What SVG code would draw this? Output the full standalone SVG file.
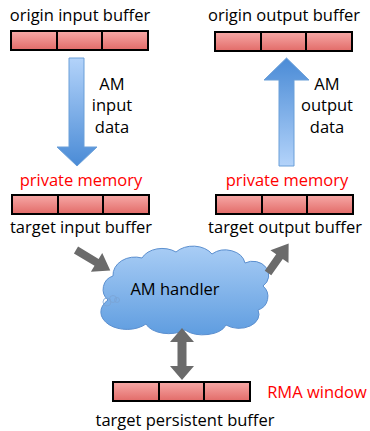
<svg xmlns="http://www.w3.org/2000/svg" width="370" height="431" viewBox="0 0 370 431">
<defs>
<linearGradient id="buf" x1="0" y1="0" x2="0" y2="1"><stop offset="0" stop-color="#f7a9a7"/><stop offset="1" stop-color="#e26b68"/></linearGradient>
<linearGradient id="blueDown" x1="0" y1="0" x2="0" y2="1"><stop offset="0" stop-color="#b3d3fa"/><stop offset="1" stop-color="#4a8bd6"/></linearGradient>
<linearGradient id="blueUp" x1="0" y1="1" x2="0" y2="0"><stop offset="0" stop-color="#b3d3fa"/><stop offset="1" stop-color="#4a8bd6"/></linearGradient>
<linearGradient id="cloudG" x1="0" y1="0" x2="0" y2="1"><stop offset="0" stop-color="#a9cdf5"/><stop offset="1" stop-color="#5f9de0"/></linearGradient>
<g id="bufbar">
<rect x="0" y="0" width="137" height="19" fill="url(#buf)" stroke="#000" stroke-width="2"/>
<line x1="46" y1="0" x2="46" y2="19" stroke="#000" stroke-width="2"/>
<line x1="91" y1="0" x2="91" y2="19" stroke="#000" stroke-width="2"/>
</g>
</defs>
<style>
text{font-family:"Open Sans","Liberation Sans",sans-serif;font-size:16.5px;fill:#000;text-anchor:middle}
.red{fill:#ff0000}
.gray{fill:#6b6b6b}
.blue{stroke:#6a9fd8;stroke-width:1}
</style>
<g id="origin-input">
<text x="80" y="21">origin input buffer</text>
<use href="#bufbar" x="11" y="31"/>
</g>
<g id="origin-output">
<text x="284" y="21">origin output buffer</text>
<use href="#bufbar" x="215" y="32"/>
</g>
<g id="target-input">
<text class="red" x="81" y="186">private memory</text>
<use href="#bufbar" x="12" y="195"/>
<text x="81" y="233">target input buffer</text>
</g>
<g id="target-output">
<text class="red" x="287" y="186">private memory</text>
<use href="#bufbar" x="216" y="195"/>
<text x="285" y="233">target output buffer</text>
</g>
<g id="am-handler">
<path d="M108,300 A14,14 0 0 1 113,276 A22,18 0 0 1 142,258 A22,16 0 0 1 176,252 A22,16 0 0 1 212,254 A20,16 0 0 1 245,263 A16,14 0 0 1 263,286 A14,14 0 0 1 258,310 A20,14 0 0 1 226,325 A24,14 0 0 1 185,330 A24,14 0 0 1 146,324 A24,16 0 0 1 108,300 Z" fill="url(#cloudG)" stroke="#5b8fcf" stroke-width="1"/>
<g fill="none" stroke="#7aa3d4" stroke-width="0.8"><circle cx="107" cy="302" r="4"/><circle cx="113" cy="299" r="3.5"/><circle cx="117" cy="300" r="2.5"/></g>
<text x="175" y="295">AM handler</text>
</g>
<g id="persistent">
<use href="#bufbar" x="113" y="382"/>
<text class="red" x="317" y="398">RMA window</text>
<text x="185" y="426">target persistent buffer</text>
</g>
<g id="connectors">
<path class="blue" d="M69,58 H84 V147 H97 L77,166 L57,147 H69 Z" fill="url(#blueDown)"/>
<text x="112" y="90">AM</text><text x="112" y="111">input</text><text x="112" y="133">data</text>
<path class="blue" d="M279,166 H294 V80 H309 L286.5,58 L264,80 H279 Z" fill="url(#blueUp)"/>
<text x="327" y="90">AM</text><text x="327" y="111">output</text><text x="327" y="133">data</text>
<path class="gray" transform="translate(76,250) rotate(31)" d="M0,-4 H24 V-11 L40,0 L24,11 V4 H0 Z"/>
<path class="gray" transform="translate(268,273) rotate(-55)" d="M0,-4 H20 V-11 L36,0 L20,11 V4 H0 Z"/>
<path class="gray" d="M182,328 L194,342 H186.5 V366 H194 L182,380 L170,366 H177.5 V342 H170 Z"/>
</g>
</svg>
